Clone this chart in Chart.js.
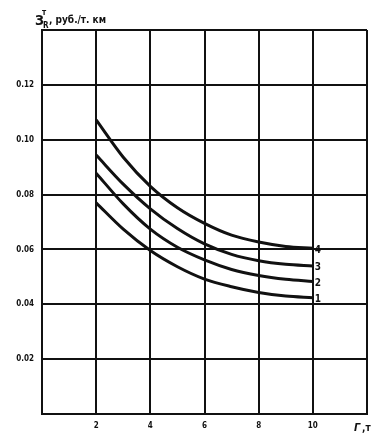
<!DOCTYPE html>
<html>
<head>
<meta charset="utf-8">
<script src="https://cdn.jsdelivr.net/npm/chart.js@4.4.1/dist/chart.umd.min.js"></script>
<style>
  html, body { margin: 0; padding: 0; background: #fff; }
  #wrap { width: 378px; height: 441px; position: relative; }
</style>
</head>
<body>
<div id="wrap"><canvas id="chart"></canvas></div>
<script>
// mass of cargo, t
const loads = [2, 3, 4, 5, 6, 7, 8, 9, 10];
// cost per t-km, curves 1..4
const curve1 = [0.0770, 0.0674, 0.0596, 0.0537, 0.0492, 0.0464, 0.0443, 0.0430, 0.0424];
const curve2 = [0.0878, 0.0766, 0.0674, 0.0608, 0.0562, 0.0527, 0.0505, 0.0491, 0.0483];
const curve3 = [0.0944, 0.0838, 0.0748, 0.0676, 0.0620, 0.0582, 0.0559, 0.0546, 0.0540];
const curve4 = [0.1072, 0.0936, 0.0830, 0.0752, 0.0695, 0.0652, 0.0627, 0.0611, 0.0604];
const curveNames = ['1', '2', '3', '4'];
const yTicks = [0.02, 0.04, 0.06, 0.08, 0.10, 0.12];
const xTicks = [2, 4, 6, 8, 10];

const ink = '#111';
const tickFont = { family: 'DejaVu Sans Condensed', size: 8, weight: 'bold' };

function series(vals) {
  return loads.map((x, i) => ({ x: x, y: vals[i] }));
}

const labelsPlugin = {
  id: 'labelsPlugin',
  afterDatasetsDraw(chart) {
    const ctx = chart.ctx;
    const xs = chart.scales.x, ys = chart.scales.y;
    const area = chart.chartArea;
    ctx.save();
    ctx.fillStyle = ink;
    ctx.font = 'bold 10px "DejaVu Sans Condensed"';
    ctx.textBaseline = 'middle';
    ctx.textAlign = 'left';
    chart.data.datasets.forEach((ds, i) => {
      const last = ds.data[ds.data.length - 1];
      ctx.fillText(curveNames[i], xs.getPixelForValue(last.x) + 2, ys.getPixelForValue(last.y) + 2);
    });
    // x axis name
    ctx.textBaseline = 'alphabetic';
    ctx.font = 'italic bold 11px "DejaVu Sans Condensed"';
    ctx.fillText('Г', area.right - 13, area.bottom + 17);
    ctx.font = 'bold 10px "DejaVu Sans Condensed"';
    ctx.fillText(',т', area.right - 5, area.bottom + 17);
    // y axis title: З with sup т and sub R
    const left = area.left;
    ctx.font = 'bold 14px "DejaVu Sans Condensed"';
    ctx.fillText('З', left - 7, 25);
    ctx.font = 'bold 8px "DejaVu Sans Condensed"';
    ctx.fillText('т', left, 15);
    ctx.fillText('R', left + 1, 28);
    ctx.font = 'bold 10px "DejaVu Sans Condensed"';
    ctx.fillText(', руб./т. км', left + 7, 23);
    ctx.restore();
  }
};

new Chart(document.getElementById('chart'), {
  type: 'scatter',
  data: {
    datasets: [curve1, curve2, curve3, curve4].map((vals, i) => ({
      label: curveNames[i],
      data: series(vals),
      showLine: true,
      borderColor: ink,
      borderWidth: 3,
      pointRadius: 0,
      cubicInterpolationMode: 'monotone'
    }))
  },
  options: {
    responsive: true,
    maintainAspectRatio: false,
    animation: false,
    layout: { padding: { left: 0, top: 30, right: 11, bottom: 0 } },
    plugins: { legend: { display: false }, tooltip: { enabled: false } },
    scales: {
      x: {
        type: 'linear', min: 0, max: 12,
        afterBuildTicks(scale) {
          scale.ticks = [0].concat(xTicks, [12]).map(v => ({ value: v }));
        },
        afterFit(scale) { scale.height = 27; },
        grid: { color: ink, lineWidth: 2, drawTicks: false },
        border: { color: ink, width: 2 },
        ticks: {
          color: ink, padding: 7, maxRotation: 0, autoSkip: false, font: tickFont,
          callback: v => (v === 0 || v === 12) ? '' : String(v)
        }
      },
      y: {
        type: 'linear', min: 0, max: 0.14,
        afterBuildTicks(scale) {
          scale.ticks = [0].concat(yTicks, [0.14]).map(v => ({ value: v }));
        },
        afterFit(scale) { scale.width = 42; },
        grid: { color: ink, lineWidth: 2, drawTicks: false },
        border: { color: ink, width: 2 },
        ticks: {
          color: ink, padding: 8, font: tickFont,
          callback: v => (v === 0 || v > 0.13) ? '' : v.toFixed(2)
        }
      }
    }
  },
  plugins: [labelsPlugin]
});
</script>
</body>
</html>
